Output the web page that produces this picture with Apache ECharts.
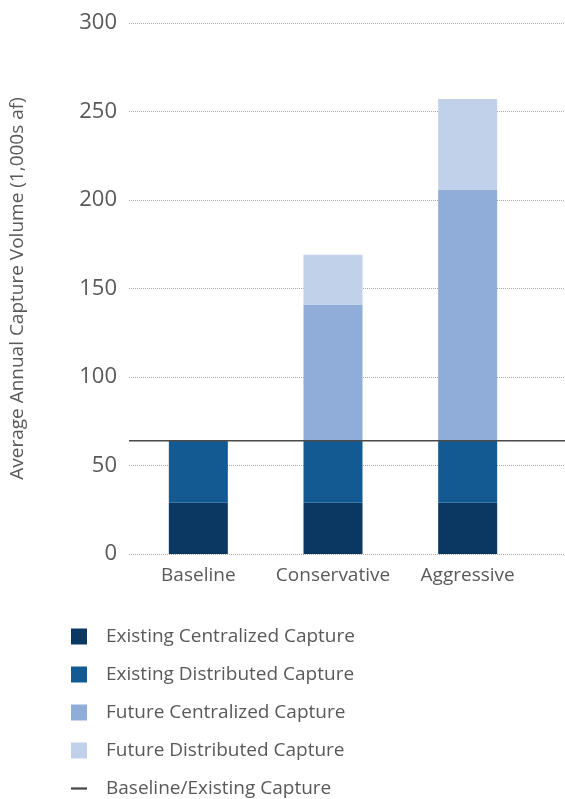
<!DOCTYPE html>
<html>
<head>
<meta charset="utf-8">
<script src="https://cdn.jsdelivr.net/npm/echarts@6/dist/echarts.min.js"></script>
<style>
  html, body { margin: 0; padding: 0; background: #fff; }
  #main { width: 565px; height: 799px; }
</style>
</head>
<body>
<div id="main"></div>
<script>
// data
var categories = ['Baseline', 'Conservative', 'Aggressive'];
var existingCentralized = [29, 29, 29];
var existingDistributed = [35, 35, 35];
var futureCentralized = [0, 77, 142];
var futureDistributed = [0, 28, 51];
var baselineLevel = 64;
var yTicks = [0, 300, 50]; // min, max, step

var myChart = echarts.init(document.getElementById('main'));

var textColor = '#58595b';
var font = 'Open Sans';

var option = {
  backgroundColor: '#fff',
  animation: false,
  grid: [
    { left: 131, right: 30, top: 23, bottom: 245 },  // bars
    { left: 125, right: 0, top: 23, bottom: 245 }    // gridlines + baseline line
  ],
  legend: {
    orient: 'vertical',
    left: 71,
    top: 627,
    height: 400,
    padding: 0,
    itemWidth: 16,
    itemHeight: 16,
    itemGap: 19,
    textStyle: { color: textColor, fontFamily: font, fontSize: 19, lineHeight: 16, padding: [0, 0, 0, 14] },
    data: [
      { name: 'Existing Centralized Capture', icon: 'rect' },
      { name: 'Existing Distributed Capture', icon: 'rect' },
      { name: 'Future Centralized Capture', icon: 'rect' },
      { name: 'Future Distributed Capture', icon: 'rect' },
      { name: 'Baseline/Existing Capture', icon: 'path://M0,0 L14,0 L14,2 L0,2 Z' }
    ]
  },
  xAxis: [
    {
      type: 'category',
      gridIndex: 0,
      data: categories,
      axisLine: { show: false },
      axisTick: { show: false },
      axisLabel: { color: textColor, fontFamily: font, fontSize: 19, margin: 12, interval: 0 }
    },
    {
      type: 'value',
      gridIndex: 1,
      min: 0,
      max: 1,
      show: false
    }
  ],
  yAxis: [
    {
      type: 'value',
      gridIndex: 0,
      min: yTicks[0],
      max: yTicks[1],
      interval: yTicks[2],
      show: false
    },
    {
      type: 'value',
      gridIndex: 1,
      min: yTicks[0],
      max: yTicks[1],
      interval: yTicks[2],
      name: 'Average Annual Capture Volume (1,000s af)',
      nameLocation: 'middle',
      nameGap: 102,
      nameTextStyle: { color: textColor, fontFamily: font, fontSize: 19 },
      axisLine: { show: false },
      axisTick: { show: false },
      axisLabel: { color: textColor, fontFamily: font, fontSize: 22, margin: 12 },
      splitLine: { lineStyle: { color: '#a8a8a8', type: 'dotted', width: 1 } }
    }
  ],
  series: [
    {
      name: 'Existing Centralized Capture',
      type: 'bar', stack: 'cap', barWidth: 59,
      itemStyle: { color: '#0b3863' },
      data: existingCentralized
    },
    {
      name: 'Existing Distributed Capture',
      type: 'bar', stack: 'cap',
      itemStyle: { color: '#135a93' },
      data: existingDistributed
    },
    {
      name: 'Future Centralized Capture',
      type: 'bar', stack: 'cap',
      itemStyle: { color: '#8fadd8' },
      data: futureCentralized
    },
    {
      name: 'Future Distributed Capture',
      type: 'bar', stack: 'cap',
      itemStyle: { color: '#c1d1ea' },
      data: futureDistributed
    },
    {
      name: 'Baseline/Existing Capture',
      type: 'line',
      xAxisIndex: 1,
      yAxisIndex: 1,
      z: 5,
      symbol: 'none',
      itemStyle: { color: '#4a4a4a' },
      lineStyle: { color: '#4a4a4a', width: 1.5 },
      data: [[0, baselineLevel], [1, baselineLevel]]
    }
  ]
};

myChart.setOption(option);
window.onresize = myChart.resize;
</script>
</body>
</html>
